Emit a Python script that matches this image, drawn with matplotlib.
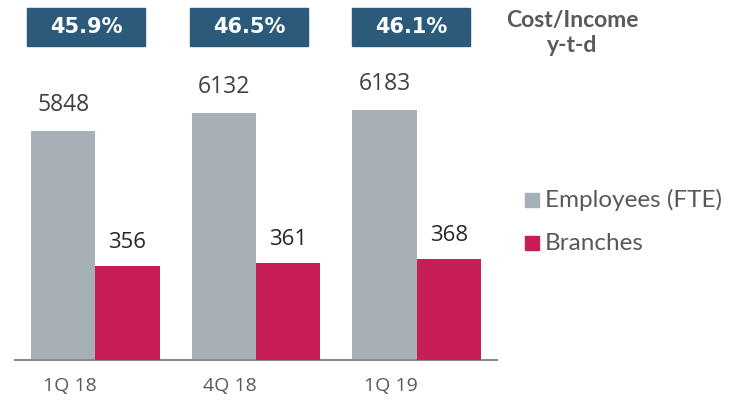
import matplotlib
matplotlib.use("Agg")
import matplotlib.pyplot as plt
from matplotlib.patches import Rectangle
import numpy as np

categories = ["1Q 18", "4Q 18", "1Q 19"]
employees = [5848, 6132, 6183]
branches = [356, 361, 368]
cost_income = ["45.9%", "46.5%", "46.1%"]

W, H = 731, 403
fig = plt.figure(figsize=(W / 100, H / 100), dpi=100)

def fx(px):
    return px / W

def fy(py):
    return 1 - py / H

ax = fig.add_axes([fx(15), fy(360), fx(497) - fx(15), fy(60) - fy(360)])
ax2 = ax.twinx()

grey = "#A7AFB7"
red = "#C81E57"
x = np.arange(len(categories))
bw = 0.4

ax.bar(x - bw / 2, employees, width=bw, color=grey, zorder=2)
ax2.bar(x + bw / 2, branches, width=bw, color=red, zorder=2)
ax.set_ylim(2172, 6987)
ax2.set_ylim(195, 710)
ax.set_xlim(-0.5, 2.5)

for xi, v in zip(x, employees):
    ax.annotate(str(v), (xi - bw / 2, v), xytext=(0, 26), textcoords="offset pixels",
                ha="center", va="center", fontsize=16.5, color="#404040", family="Open Sans")
for xi, v in zip(x, branches):
    ax2.annotate(str(v), (xi + bw / 2, v), xytext=(0, 24), textcoords="offset pixels",
                 ha="center", va="center", fontsize=16, color="#262626", family="Open Sans")

for a in (ax, ax2):
    for s in ["top", "right", "left"]:
        a.spines[s].set_visible(False)
    a.set_yticks([])
ax.spines["bottom"].set_color("#8C8C8C")
ax.spines["bottom"].set_linewidth(1.5)
ax2.spines["bottom"].set_visible(False)
ax.set_xticks(x - 0.16)
ax.set_xticklabels(categories, fontsize=14, color="#595959", family="Open Sans")
ax.tick_params(axis="x", length=0, pad=12)

# Cost/Income boxes
box_centers = [86, 249, 411]
for cx, t in zip(box_centers, cost_income):
    r = Rectangle((fx(cx - 59), fy(46)), fx(118), fy(8) - fy(46), transform=fig.transFigure,
                  color="#2B5A7B", zorder=1)
    fig.patches.append(r)
    fig.text(fx(cx), fy(27), t, ha="center", va="center", color="white", fontsize=15,
             fontweight="bold", family="DejaVu Sans")
fig.text(fx(572), fy(20), "Cost/Income", ha="center", va="center", color="#595959",
         fontsize=16.5, fontweight="bold", family="Lato")
fig.text(fx(572), fy(46), "y-t-d", ha="center", va="center", color="#595959",
         fontsize=16.5, fontweight="bold", family="Lato")

# Legend
for py, c, lab in [(200, grey, "Employees (FTE)"), (243, red, "Branches")]:
    fig.patches.append(Rectangle((fx(525), fy(py + 7)), fx(14), fy(py - 7) - fy(py + 7),
                                 transform=fig.transFigure, color=c))
    fig.text(fx(545), fy(py), lab, ha="left", va="center", color="#595959", fontsize=17.5,
             family="Lato")

fig.savefig("out.png", dpi=100)
